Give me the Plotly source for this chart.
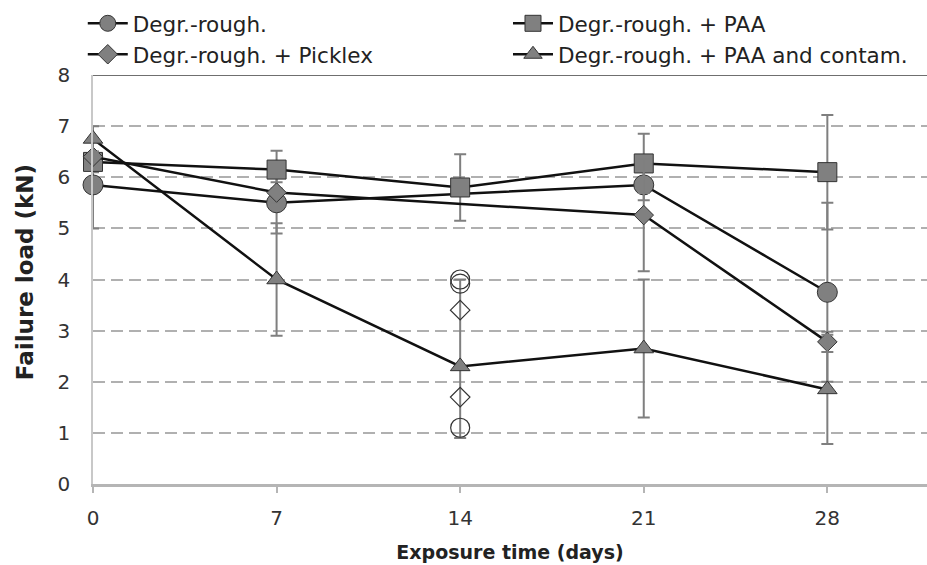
import plotly.graph_objects as go

# Exposure times (days)
days = [0, 7, 14, 21, 28]

# Mean failure loads (kN); None = mean not plotted at that time
rough_vals = [5.85, 5.50, None, 5.85, 3.75]
paa_vals = [6.30, 6.15, 5.80, 6.27, 6.10]
picklex_vals = [6.40, 5.70, None, 5.26, 2.78]
contam_vals = [6.75, 4.00, 2.30, 2.65, 1.85]

# Error bar half-widths (kN)
rough_err = [0.85, 0.60, 0, 0.30, 1.75]
paa_err = [0.20, 0.37, 0.65, 0.58, 1.12]
picklex_err = [0.10, 0.20, 0, 1.10, 0.20]
contam_err_up = [0.25, 1.10, 1.70, 1.35, 1.07]
contam_err_down = [0.25, 1.10, 1.40, 1.35, 1.07]

# Individual specimen results at day 14
rough_d14_day = [14, 14, 14]
rough_d14_vals = [4.00, 3.92, 1.10]
picklex_d14_day = [14, 14]
picklex_d14_vals = [3.40, 1.70]

series_names = [
    "Degr.-rough.",
    "Degr.-rough. + PAA",
    "Degr.-rough. + Picklex",
    "Degr.-rough. + PAA and contam.",
]

y_ticks = list(range(0, 9))

FONT = "DejaVu Sans"
FILL = "#808080"
EDGE = "#333333"
ERR = "#7f7f7f"

fig = go.Figure()


def err(up, down=None):
    d = dict(type="data", array=up, color=ERR, thickness=2, width=6, visible=True)
    if down is not None:
        d["symmetric"] = False
        d["arrayminus"] = down
    return d


# (name, values, symbol, size, error bars, legend column)
specs = [
    (series_names[0], rough_vals, "circle", 20, err(rough_err), "legend"),
    (series_names[1], paa_vals, "square", 19, err(paa_err), "legend2"),
    (series_names[2], picklex_vals, "diamond", 15, err(picklex_err), "legend"),
    (series_names[3], contam_vals, "triangle-up", 17,
     err(contam_err_up, contam_err_down), "legend2"),
]

for name, vals, sym, size, ebar, leg in specs:
    fig.add_trace(go.Scatter(
        x=days, y=vals, name=name, mode="lines+markers",
        connectgaps=True, cliponaxis=False, legend=leg,
        line=dict(color="#111111", width=2.5),
        marker=dict(symbol=sym, size=size, color=FILL,
                    line=dict(color=EDGE, width=1)),
        error_y=ebar,
    ))

fig.add_trace(go.Scatter(
    x=rough_d14_day, y=rough_d14_vals, mode="markers", showlegend=False,
    marker=dict(symbol="circle-open", size=19, color=EDGE, line=dict(width=1.2)),
))
fig.add_trace(go.Scatter(
    x=picklex_d14_day, y=picklex_d14_vals, mode="markers", showlegend=False,
    marker=dict(symbol="diamond-open", size=15, color=EDGE, line=dict(width=1.2)),
))

# Solid top border at the 8 kN line
fig.add_shape(type="line", xref="paper", yref="y", x0=0, x1=1, y0=8, y1=8,
              line=dict(color="#6f6f6f", width=2), layer="below")

# Vertical y-axis title
fig.add_annotation(
    text="<b>Failure load (kN)</b>", textangle=-90,
    xref="paper", yref="paper", x=-68 / 834, y=0.518,
    xanchor="center", yanchor="middle", showarrow=False,
    font=dict(family=FONT, size=23, color="#222222"),
)

legend_common = dict(
    orientation="v", xref="container", yref="container",
    y=0.995, xanchor="left", yanchor="top",
    font=dict(family=FONT, size=21.5, color="#222222"),
    itemwidth=40, tracegroupgap=0, bgcolor="rgba(0,0,0,0)",
)

fig.update_layout(
    width=927, height=565,
    margin=dict(l=93, r=0, t=75, b=81, autoexpand=False),
    paper_bgcolor="white", plot_bgcolor="white",
    font=dict(family=FONT, color="#333333", size=20),
    showlegend=True,
    legend=dict(x=0.0893, **legend_common),
    legend2=dict(x=0.548, **legend_common),
    xaxis=dict(
        range=[0, 31.8], tickvals=days, ticktext=[str(d) for d in days],
        showgrid=False, zeroline=False,
        showline=True, linecolor="#b5b5b5", linewidth=2.5,
        ticks="outside", ticklen=6, tickcolor="#b5b5b5", tickwidth=1.5,
        ticklabelstandoff=8,
        tickfont=dict(family=FONT, size=20, color="#333333"),
        title=dict(text="<b>Exposure time (days)</b>", standoff=17,
                   font=dict(family=FONT, size=19, color="#222222")),
    ),
    # labelled axis: long invisible ticks push the labels away from the axis
    yaxis=dict(
        range=[0, 8], tickvals=y_ticks,
        showgrid=True, gridcolor="#b0b0b0", gridwidth=2, griddash="12px,6px",
        zeroline=False,
        showline=True, linecolor="#c8c8c8", linewidth=1.5,
        ticks="outside", ticklen=17, tickcolor="rgba(0,0,0,0)",
        tickfont=dict(family=FONT, size=20, color="#333333"),
    ),
    # overlay axis carrying the short visible tick marks
    yaxis2=dict(
        range=[0, 8], tickvals=y_ticks, overlaying="y", side="left",
        showticklabels=False, showgrid=False, zeroline=False, showline=False,
        ticks="outside", ticklen=6, tickcolor="#b0b0b0", tickwidth=1.5,
    ),
)

fig.write_html("out.html")
